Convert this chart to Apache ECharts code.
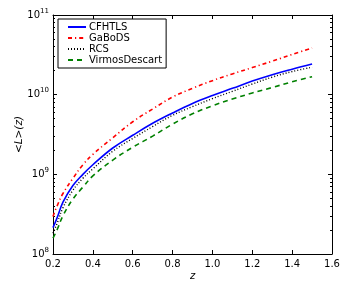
<!DOCTYPE html>
<html>
<head>
<meta charset="utf-8">
<script src="https://cdn.jsdelivr.net/npm/echarts@6/dist/echarts.min.js"></script>
<style>html,body{margin:0;padding:0;background:#fff}#c{width:350px;height:300px}</style>
</head>
<body>
<div id="c"></div>
<script>
const zValues = [0.2, 0.22, 0.25, 0.3, 0.35, 0.4, 0.5, 0.6, 0.7, 0.8, 0.9, 1.0, 1.1, 1.2, 1.3, 1.4, 1.5];
const cfhtls = [2.14e8, 2.82e8, 4.47e8, 7.24e8, 1.0e9, 1.32e9, 2.14e9, 3.09e9, 4.37e9, 5.89e9, 7.76e9, 9.77e9, 1.20e10, 1.48e10, 1.78e10, 2.09e10, 2.43e10];
const gabods = [2.95e8, 3.98e8, 5.75e8, 8.91e8, 1.32e9, 1.78e9, 2.88e9, 4.57e9, 6.61e9, 9.33e9, 1.20e10, 1.50e10, 1.82e10, 2.19e10, 2.63e10, 3.20e10, 3.85e10];
const rcs = [1.82e8, 2.40e8, 3.80e8, 6.31e8, 8.91e8, 1.17e9, 1.95e9, 2.82e9, 3.98e9, 5.50e9, 7.08e9, 8.91e9, 1.10e10, 1.36e10, 1.66e10, 1.95e10, 2.21e10];
const virmos = [1.58e8, 2.0e8, 3.02e8, 4.90e8, 6.92e8, 9.55e8, 1.51e9, 2.19e9, 3.02e9, 4.27e9, 5.75e9, 7.24e9, 8.81e9, 1.05e10, 1.23e10, 1.45e10, 1.68e10];
const seriesNames = ['CFHTLS', 'GaBoDS', 'RCS', 'VirmosDescart'];
const xTicks = [0.2, 0.4, 0.6, 0.8, 1.0, 1.2, 1.4, 1.6];
const yExponents = [8, 9, 10, 11];
const yMinorTicks = [];
[8, 9, 10].forEach(e => { for (let m = 2; m <= 9; m++) yMinorTicks.push(m * Math.pow(10, e)); });

const pair = arr => zValues.map((z, i) => [z, arr[i]]);
const font = 'DejaVu Sans';
const yMin = Math.pow(10, yExponents[0]);
const yMax = Math.pow(10, yExponents[yExponents.length - 1]);
const axisLine = { show: true, lineStyle: { color: '#000', width: 1 } };

const chart = echarts.init(document.getElementById('c'), null, { renderer: 'canvas' });
chart.setOption({
  backgroundColor: '#fff',
  animation: false,
  grid: { left: 53, right: 18, top: 15, bottom: 46, containLabel: false },
  legend: {
    left: 58, top: 19, orient: 'vertical',
    data: seriesNames,
    itemWidth: 18, itemHeight: 10, itemGap: 1,
    padding: [3, 4, 3, 9],
    borderColor: '#000', borderWidth: 1, borderRadius: 0,
    backgroundColor: '#fff',
    itemStyle: { opacity: 0 },
    textStyle: { fontFamily: font, fontSize: 10, lineHeight: 10, color: '#000', padding: [0, 0, 0, -2] },
    selectedMode: false
  },
  xAxis: [
    { type: 'value', min: xTicks[0], max: xTicks[xTicks.length - 1], interval: 0.2, position: 'bottom',
      name: 'z', nameLocation: 'middle', nameGap: 17, nameMoveOverlap: false,
      nameTextStyle: { fontFamily: font, fontStyle: 'italic', fontSize: 10, color: '#000' },
      axisLine: axisLine, splitLine: { show: false },
      axisTick: { inside: true, length: 4, lineStyle: { color: '#000' } },
      axisLabel: { fontFamily: font, fontSize: 10, color: '#000', margin: 5, formatter: v => v.toFixed(1) } },
    { type: 'value', min: xTicks[0], max: xTicks[xTicks.length - 1], interval: 0.2, position: 'top',
      axisLine: axisLine, splitLine: { show: false },
      axisTick: { inside: true, length: 4, lineStyle: { color: '#000' } },
      axisLabel: { show: false } }
  ],
  yAxis: [
    { type: 'log', logBase: 10, min: yMin, max: yMax, position: 'left',
      name: '<L>(z)', nameLocation: 'middle', nameGap: 28, nameRotate: 90, nameMoveOverlap: false,
      nameTextStyle: { fontFamily: font, fontStyle: 'italic', fontSize: 10.5, color: '#000' },
      axisLine: axisLine, splitLine: { show: false },
      axisTick: { inside: true, length: 4, lineStyle: { color: '#000' } },
      axisLabel: { margin: 4, color: '#000',
        formatter: v => '{b|10}{s|' + Math.round(Math.log10(v)) + '}',
        rich: { b: { fontFamily: font, fontSize: 10, color: '#000' },
                s: { fontFamily: font, fontSize: 7, color: '#000', verticalAlign: 'bottom', padding: [0, 0, 8, 0] } } } },
    { type: 'log', logBase: 10, min: yMin, max: yMax, position: 'right',
      axisLine: axisLine, splitLine: { show: false },
      axisTick: { inside: true, length: 4, lineStyle: { color: '#000' } },
      axisLabel: { show: false } },
    { type: 'log', logBase: 10, min: yMin, max: yMax, position: 'left',
      axisLine: { show: false }, splitLine: { show: false },
      axisTick: { inside: true, length: 2, customValues: yMinorTicks, lineStyle: { color: '#000' } },
      axisLabel: { show: false } },
    { type: 'log', logBase: 10, min: yMin, max: yMax, position: 'right',
      axisLine: { show: false }, splitLine: { show: false },
      axisTick: { inside: true, length: 2, customValues: yMinorTicks, lineStyle: { color: '#000' } },
      axisLabel: { show: false } }
  ],
  series: [
    { name: seriesNames[0], type: 'line', data: pair(cfhtls), showSymbol: false, symbol: 'none', smooth: 0.4,
      color: '#0000ff', lineStyle: { color: '#0000ff', width: 1.6, type: 'solid' } },
    { name: seriesNames[1], type: 'line', data: pair(gabods), showSymbol: false, symbol: 'none', smooth: 0.4,
      color: '#ff0000', lineStyle: { color: '#ff0000', width: 1.6, type: [4, 3, 1.2, 3] } },
    { name: seriesNames[2], type: 'line', data: pair(rcs), showSymbol: false, symbol: 'none', smooth: 0.4,
      color: '#000000', lineStyle: { color: '#000000', width: 1.4, type: [1, 2] } },
    { name: seriesNames[3], type: 'line', data: pair(virmos), showSymbol: false, symbol: 'none', smooth: 0.4,
      color: '#008000', lineStyle: { color: '#008000', width: 1.6, type: [5, 4] } }
  ]
});
</script>
</body>
</html>
